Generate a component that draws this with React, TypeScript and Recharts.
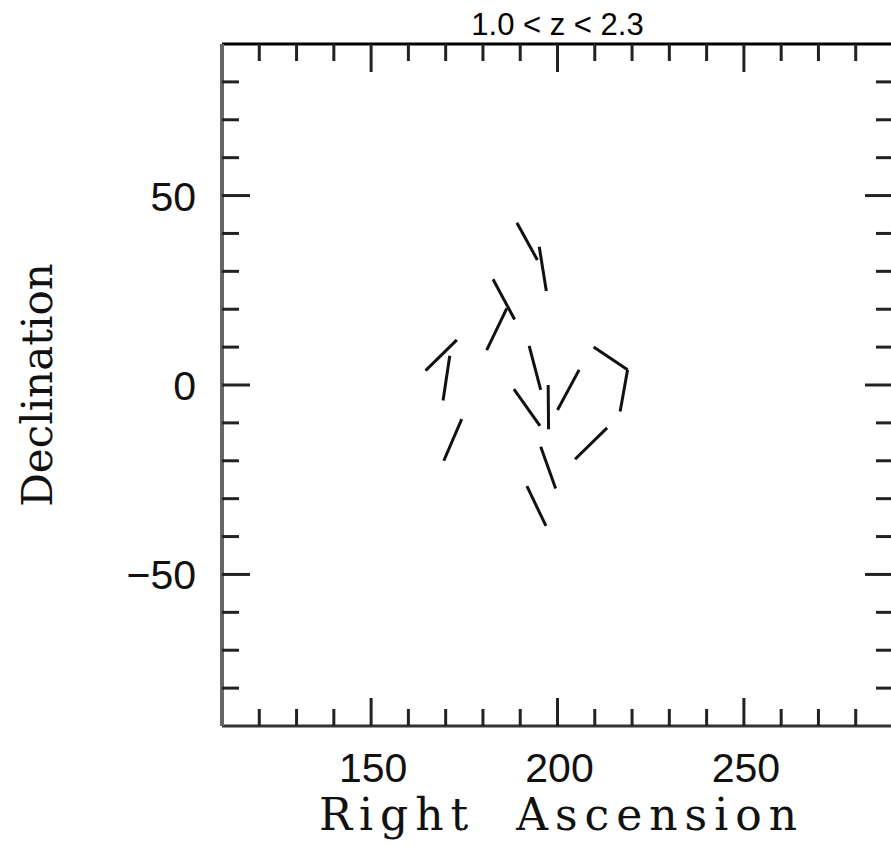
import React from "react";
import {
  ScatterChart,
  Scatter,
  XAxis,
  YAxis,
} from "recharts";

// polarization vectors: start / end of every segment (RA, Dec in degrees)
const raStart = [189.1, 195.1, 182.7, 186.4, 164.6, 171.1, 174.3, 192.4, 188.3, 197.5, 205.8, 209.7, 218.8, 213.3, 195.5, 191.8];
const decStart = [42.8, 36.5, 27.9, 20.2, 3.8, 7.7, -9.0, 10.3, -1.1, 0.0, 4.0, 10.0, 4.0, -11.3, -16.3, -26.7];
const raEnd = [194.6, 197.0, 188.5, 181.0, 173.0, 169.3, 169.5, 195.5, 195.3, 197.6, 200.0, 218.8, 216.8, 204.7, 199.5, 196.9];
const decEnd = [33.0, 24.8, 17.3, 9.2, 11.9, -4.1, -20.0, -1.3, -10.8, -11.7, -6.6, 4.0, -7.0, -19.6, -27.3, -37.2];

const xTicks = [120, 130, 140, 150, 160, 170, 180, 190, 200, 210, 220, 230, 240, 250, 260, 270, 280];
const yTicks = [-80, -70, -60, -50, -40, -30, -20, -10, 0, 10, 20, 30, 40, 50, 60, 70, 80];
const xLabels = [150, 200, 250];
const yLabels = [-50, 0, 50];

const TITLE = "1.0 < z < 2.3";
const X_TITLE = "Right Ascension";
const Y_TITLE = "Declination";

const segments = raStart.map((_, i) => [
  { ra: raStart[i], dec: decStart[i] },
  { ra: raEnd[i], dec: decEnd[i] },
]);
// the top / right frame axes need a series bound to them so their ticks get drawn
const anchors = raStart.map((ra, i) => ({ ra, dec: decStart[i] }));

const NUM_FONT = "'Liberation Sans', Arial, sans-serif";
const SERIF = "'DejaVu Serif', serif";
const MINOR = 17;
const MAJOR = 28;

const BottomTick = (props: any) => {
  const { x, y, payload } = props;
  const major = xLabels.includes(payload.value);
  return (
    <g>
      <line x1={x} x2={x} y1={y} y2={y - (major ? MAJOR : MINOR)} stroke="#222" strokeWidth={3} />
      {major && (
        <text x={x + 2} y={y + 56} textAnchor="middle" fontFamily={NUM_FONT} fontSize={41} fill="#111">
          {payload.value}
        </text>
      )}
    </g>
  );
};

const TopTick = (props: any) => {
  const { x, y, payload } = props;
  const major = xLabels.includes(payload.value);
  return <line x1={x} x2={x} y1={y} y2={y + (major ? MAJOR : MINOR)} stroke="#222" strokeWidth={3} />;
};

const LeftTick = (props: any) => {
  const { x, y, payload } = props;
  const major = yLabels.includes(payload.value);
  const label = payload.value < 0 ? "\u2212" + Math.abs(payload.value) : String(payload.value);
  return (
    <g>
      <line x1={x} x2={x + (major ? MAJOR : MINOR)} y1={y} y2={y} stroke="#222" strokeWidth={3} />
      {major && (
        <text x={x - 26} y={y + 15} textAnchor="end" fontFamily={NUM_FONT} fontSize={41} fill="#111">
          {label}
        </text>
      )}
    </g>
  );
};

const RightTick = (props: any) => {
  const { x, y, payload } = props;
  const major = yLabels.includes(payload.value);
  return <line x1={x} x2={x - (major ? MAJOR : MINOR)} y1={y} y2={y} stroke="#222" strokeWidth={3} />;
};

export default function App() {
  return (
    <div
      style={{
        position: "absolute",
        left: 0,
        top: 0,
        width: 891,
        height: 855,
        overflow: "hidden",
        background: "#fff",
      }}
    >
      <ScatterChart width={901} height={855} margin={{ top: 0, right: 0, bottom: 0, left: 0 }}>
        <XAxis
          xAxisId="bottom"
          dataKey="ra"
          type="number"
          domain={[110, 290]}
          ticks={xTicks}
          interval={0}
          height={129}
          tickSize={0}
          tickMargin={0}
          tickLine={false}
          axisLine={{ stroke: "#333", strokeWidth: 3 }}
          tick={<BottomTick />}
          label={{
            content: ({ viewBox }: any) => (
              <text
                x={viewBox.x + viewBox.width / 2 + 4}
                y={viewBox.y + 104}
                textAnchor="middle"
                fontFamily={SERIF}
                fontSize={44}
                letterSpacing={7}
                wordSpacing={20}
                fill="#111"
              >
                {X_TITLE}
              </text>
            ),
          }}
        />
        <XAxis
          xAxisId="top"
          orientation="top"
          dataKey="ra"
          type="number"
          domain={[110, 290]}
          ticks={xTicks}
          interval={0}
          height={44}
          tickSize={0}
          tickMargin={0}
          tickLine={false}
          axisLine={{ stroke: "#000", strokeWidth: 3 }}
          tick={<TopTick />}
          label={{
            content: ({ viewBox }: any) => (
              <text
                x={viewBox.x + viewBox.width / 2}
                y={35}
                textAnchor="middle"
                fontFamily={NUM_FONT}
                fontSize={31}
                fill="#000"
              >
                {TITLE}
              </text>
            ),
          }}
        />
        <YAxis
          yAxisId="left"
          dataKey="dec"
          type="number"
          domain={[-90, 90]}
          ticks={yTicks}
          interval={0}
          width={222}
          tickSize={0}
          tickMargin={0}
          tickLine={false}
          axisLine={{ stroke: "#666", strokeWidth: 4 }}
          tick={<LeftTick />}
          label={{
            content: ({ viewBox }: any) => {
              const cx = 37;
              const cy = viewBox.y + viewBox.height / 2;
              return (
                <text
                  x={cx}
                  y={cy}
                  transform={`rotate(-90 ${cx} ${cy})`}
                  textAnchor="middle"
                  dominantBaseline="central"
                  fontFamily={SERIF}
                  fontSize={42}
                  fill="#111"
                >
                  {Y_TITLE}
                </text>
              );
            },
          }}
        />
        <YAxis
          yAxisId="right"
          orientation="right"
          dataKey="dec"
          type="number"
          domain={[-90, 90]}
          ticks={yTicks}
          interval={0}
          width={8}
          tickSize={0}
          tickMargin={0}
          tickLine={false}
          axisLine={{ stroke: "#333", strokeWidth: 3 }}
          tick={<RightTick />}
        />
        <Scatter
          xAxisId="top"
          yAxisId="right"
          data={anchors}
          shape={() => <g />}
          isAnimationActive={false}
        />
        {segments.map((seg, i) => (
          <Scatter
            key={i}
            xAxisId="bottom"
            yAxisId="left"
            data={seg}
            line={{ stroke: "#111", strokeWidth: 3 }}
            lineType="joint"
            shape={() => <g />}
            isAnimationActive={false}
          />
        ))}
      </ScatterChart>
    </div>
  );
}
